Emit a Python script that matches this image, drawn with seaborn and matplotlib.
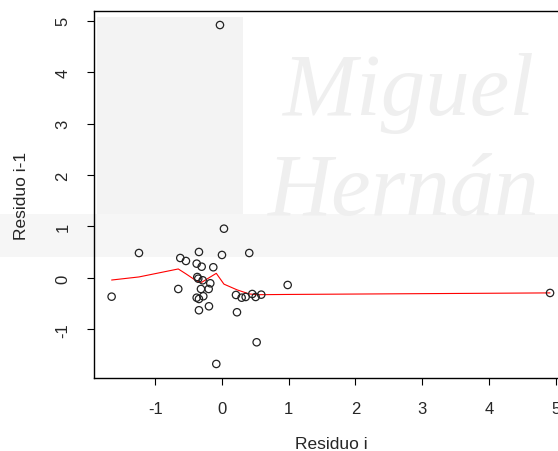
import numpy as np
import pandas as pd
import seaborn as sns
import matplotlib.pyplot as plt
from matplotlib.patches import Rectangle

# residuo i vs residuo i-1 (lag plot of residuals)
res_i = [-1.654, -1.244, 0.030, -0.625, -0.540, -0.345, -0.379, -0.304, 0.000,
         0.409, -0.130, -0.370, -0.355, -0.289, -0.175, -0.655, -0.315, -0.199,
         -0.280, -0.379, -0.345, -0.195, -0.345, 0.210, 0.295, 0.355, 0.454,
         0.505, 0.589, 0.985, 0.225, 0.520, -0.085, -0.030, 4.918]
res_prev = [-0.363, 0.485, 0.957, 0.388, 0.330, 0.505, 0.278, 0.219, 0.447,
            0.485, 0.208, 0.019, -0.014, -0.045, -0.103, -0.214, -0.214, -0.214,
            -0.355, -0.383, -0.408, -0.550, -0.627, -0.330, -0.383, -0.369, -0.311,
            -0.369, -0.324, -0.136, -0.666, -1.249, -1.670, 4.913, -0.291]

# smoother (panel.smooth style)
smooth_x = [-1.654, -1.244, -0.655, -0.540, -0.379, -0.304, -0.199, -0.085,
            0.030, 0.225, 0.409, 0.520, 0.985, 4.918]
smooth_y = [-0.040, 0.020, 0.175, 0.080, -0.060, -0.085, 0.000, 0.090,
            -0.120, -0.230, -0.310, -0.325, -0.320, -0.290]

df = pd.DataFrame({"x": res_i, "y": res_prev})
sm = pd.DataFrame({"x": smooth_x, "y": smooth_y})

sns.set_style("white")
plt.rcParams["font.family"] = ["Liberation Sans", "DejaVu Sans"]
plt.rcParams["axes.unicode_minus"] = False

fig = plt.figure(figsize=(5.58, 4.52), dpi=100)

# faint watermark behind everything
bg = fig.add_axes([0, 0, 1, 1], zorder=-1)
bg.set_xlim(0, 1)
bg.set_ylim(0, 1)
bg.axis("off")
bg.add_patch(Rectangle((0.174, 0.46), 0.262, 0.50, color="#f3f3f3", lw=0))
bg.add_patch(Rectangle((0.0, 0.43), 1.0, 0.095, color="#f6f6f6", lw=0))
bg.text(0.505, 0.745, "Miguel", fontsize=64, style="italic", family="Liberation Serif",
        color="#efefef")
bg.text(0.48, 0.525, "Hernán", fontsize=64, style="italic", family="Liberation Serif",
        color="#efefef")

ax = fig.add_axes([0.1686, 0.1626, 0.8486, 0.8098])
ax.patch.set_alpha(0)

sns.scatterplot(data=df, x="x", y="y", ax=ax, s=28, facecolor="none",
                edgecolor="#222222", linewidth=0.9, zorder=3)
sns.lineplot(data=sm, x="x", y="y", ax=ax, sort=False, estimator=None,
             color="red", linewidth=0.8, zorder=2)

# R-style 4% padding
xr = max(res_i) - min(res_i)
yr = max(res_prev) - min(res_prev)
ax.set_xlim(min(res_i) - 0.04 * xr, max(res_i) + 0.04 * xr)
ax.set_ylim(min(res_prev) - 0.04 * yr, max(res_prev) + 0.04 * yr)

ax.set_xticks(range(-1, 6))
ax.set_yticks(range(-1, 6))
ax.tick_params(axis="both", direction="out", length=5, width=0.8, color="black",
               labelsize=12, bottom=True, left=True)
ax.tick_params(axis="x", pad=12)
ax.tick_params(axis="y", pad=12)
for lab in ax.get_yticklabels():
    lab.set_rotation(90)
    lab.set_va("center")

for s in ax.spines.values():
    s.set_color("black")
    s.set_linewidth(1.0)

ax.set_xlabel("Residuo i", fontsize=12.5, labelpad=14)
ax.set_ylabel("Residuo i-1", fontsize=12.5, labelpad=19)

fig.savefig("out.png", dpi=100)
